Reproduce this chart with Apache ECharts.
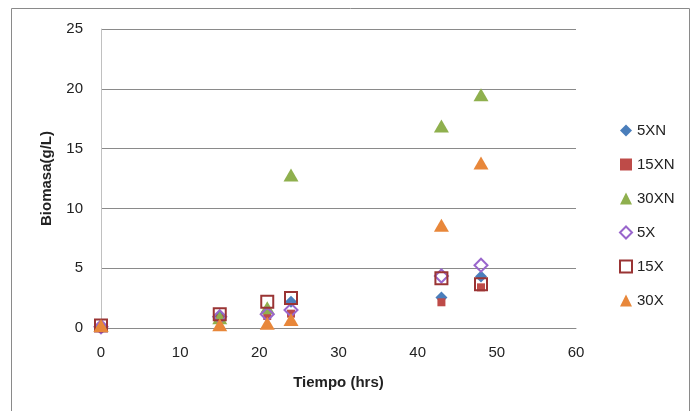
<!DOCTYPE html>
<html>
<head>
<meta charset="utf-8">
<script src="https://cdn.jsdelivr.net/npm/echarts@6/dist/echarts.min.js"></script>
<style>
  html, body { margin: 0; padding: 0; background: #fff; }
  #main { width: 694px; height: 411px; }
</style>
</head>
<body>
<div id="main"></div>
<script>
// tiempo (hrs)
var tiempo = [0, 15, 21, 24, 43, 48];

// biomasa (g/L) por serie
var s5XN  = [0.2, 1.0, 1.35, 2.2, 2.55, 4.3];
var s15XN = [0.1, 0.8, 1.0, 1.2, 2.15, 3.4];
var s30XN = [0.2, 0.85, 1.7, 12.8, 16.9, 19.5];
var s5X   = [0.1, 0.95, 1.15, 1.5, 4.35, 5.25];
var s15X  = [0.2, 1.15, 2.2, 2.5, 4.15, 3.65];
var s30X  = [0.2, 0.28, 0.4, 0.72, 8.6, 13.8];

var names = ['5XN', '15XN', '30XN', '5X', '15X', '30X'];

function pts(vals) {
  return tiempo.map(function (t, i) { return [t, vals[i]]; });
}

var font = 'Liberation Sans';

var myChart = echarts.init(document.getElementById('main'));
var option = {
  backgroundColor: '#fff',
  animation: false,
  textStyle: { fontFamily: font },
  graphic: [{
    type: 'rect',
    shape: { x: 11.5, y: 8.5, width: 678, height: 420 },
    style: { fill: 'none', stroke: '#8a8a8a', lineWidth: 1 },
    silent: true
  }],
  grid: { left: 101, right: 118, top: 29, bottom: 83 },
  legend: {
    orient: 'vertical',
    left: 614,
    top: 118,
    itemWidth: 12,
    itemHeight: 12,
    itemGap: 19,
    textStyle: { fontFamily: font, fontSize: 15, color: '#222' },
    data: names
  },
  xAxis: {
    type: 'value',
    min: 0, max: 60, interval: 10,
    name: 'Tiempo (hrs)',
    nameLocation: 'middle',
    nameGap: 47,
    nameTextStyle: { fontFamily: font, fontSize: 15, fontWeight: 'bold', color: '#222' },
    axisLine: { show: true, lineStyle: { color: '#8a8a8a' } },
    axisTick: { show: false },
    axisLabel: { margin: 17, fontSize: 15, color: '#222', fontFamily: font },
    splitLine: { show: false }
  },
  yAxis: {
    type: 'value',
    min: 0, max: 25, interval: 5,
    name: 'Biomasa(g/L)',
    nameLocation: 'middle',
    nameGap: 47,
    nameTextStyle: { fontFamily: font, fontSize: 15, fontWeight: 'bold', color: '#222' },
    axisLine: { show: true, lineStyle: { color: '#c0c0c0' } },
    axisTick: { show: false },
    axisLabel: { margin: 18, fontSize: 15, color: '#222', fontFamily: font },
    splitLine: { show: true, lineStyle: { color: '#8a8a8a', width: 1 } }
  },
  series: [
    { name: '5XN', type: 'scatter', data: pts(s5XN), symbol: 'diamond', symbolSize: 12,
      itemStyle: { color: '#4a7ebb', opacity: 1 } },
    { name: '15XN', type: 'scatter', data: pts(s15XN), symbol: 'rect', symbolSize: 8,
      itemStyle: { color: '#be4b48', opacity: 1 } },
    { name: '30XN', type: 'scatter', data: pts(s30XN), symbol: 'triangle', symbolSize: [15, 13],
      itemStyle: { color: '#8fb04e', opacity: 1 } },
    { name: '5X', type: 'scatter', data: pts(s5X), symbol: 'diamond', symbolSize: 13,
      itemStyle: { color: 'rgba(0,0,0,0)', borderColor: '#9966cc', borderWidth: 2, opacity: 1 } },
    { name: '15X', type: 'scatter', data: pts(s15X), symbol: 'rect', symbolSize: 12,
      itemStyle: { color: 'rgba(0,0,0,0)', borderColor: '#9a3434', borderWidth: 2, opacity: 1 } },
    { name: '30X', type: 'scatter', data: pts(s30X), symbol: 'triangle', symbolSize: [15, 13],
      itemStyle: { color: '#e8873a', opacity: 1 } }
  ]
};
myChart.setOption(option);
</script>
</body>
</html>
